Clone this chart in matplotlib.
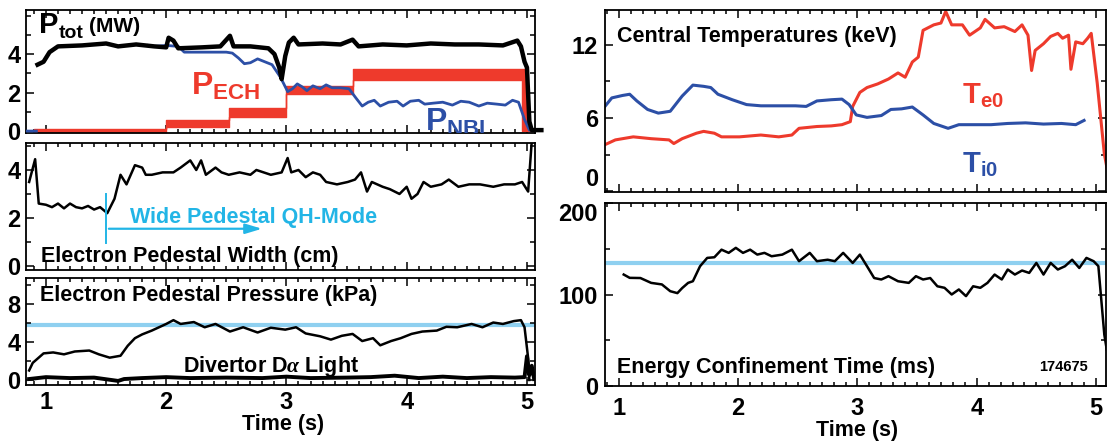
import matplotlib
matplotlib.use("Agg")
import matplotlib.pyplot as plt
from matplotlib.ticker import MultipleLocator

plt.rcParams["font.family"] = ["Liberation Sans", "DejaVu Sans"]
plt.rcParams["font.weight"] = "bold"
plt.rcParams["mathtext.fontset"] = "custom"
plt.rcParams["mathtext.rm"] = "Liberation Sans:bold"
plt.rcParams["mathtext.bf"] = "Liberation Sans:bold"
plt.rcParams["mathtext.it"] = "Liberation Serif:italic"

RED = "#ee3a2c"
BLUE = "#2c4fa6"
CYAN = "#22b5e6"
LIGHT = "#8fd0f0"
NAN = float("nan")

# ---- total power (MW) ----
ptot_t = [0.93, 0.98, 1.03, 1.10, 1.30, 1.50, 1.60, 1.75, 1.90, 2.00, 2.02, 2.06, 2.10, 2.30,
          2.45, 2.53, 2.56, 2.70, 2.85, 2.90, 2.94, 2.96, 2.99, 3.02, 3.06, 3.10, 3.30, 3.45,
          3.55, 3.60, 3.80, 4.00, 4.20, 4.40, 4.60, 4.80, 4.92, 4.95, 4.98, 5.00, 5.02, 5.04, 5.12]
ptot_v = [3.45, 3.6, 4.1, 4.4, 4.45, 4.55, 4.4, 4.5, 4.4, 4.35, 4.85, 4.7, 4.3, 4.35,
          4.4, 4.95, 4.4, 4.4, 4.3, 4.0, 3.3, 2.7, 3.9, 4.6, 4.85, 4.5, 4.55, 4.5,
          4.75, 4.4, 4.5, 4.45, 4.55, 4.5, 4.5, 4.45, 4.7, 4.4, 3.6, 3.3, 0.5, 0.05, 0.05]

# NBI power (zero before the beams, hidden under P_tot until ~1.9 s)
nbi_t = [0.84, 0.92, 0.93, 1.85, 1.90, 2.00, 2.10, 2.15,
         2.50, 2.55, 2.60, 2.65, 2.70, 2.76, 2.82, 2.88, 2.95, 3.01, 3.05, 3.09, 3.13, 3.17,
         3.22, 3.28, 3.33, 3.38, 3.45, 3.52, 3.58, 3.63, 3.68, 3.73, 3.78, 3.85, 3.92, 3.97,
         4.03, 4.10, 4.15, 4.22, 4.30, 4.38, 4.45, 4.52, 4.60, 4.67, 4.75, 4.82, 4.88, 4.93,
         4.98, 5.02, 5.10]
nbi_v = [0.0, 0.0, NAN, 4.45, 4.4, 4.45, 4.4, 4.1,
         4.1, 4.05, 3.8, 3.5, 3.55, 3.75, 3.6, 3.45, 2.8, 2.05, 2.2, 2.45, 2.3, 2.1,
         2.35, 2.2, 2.4, 2.25, 2.25, 2.2, 1.7, 1.3, 1.5, 1.6, 1.3, 1.5, 1.55, 1.3,
         1.55, 1.6, 1.4, 1.45, 1.5, 1.35, 1.55, 1.5, 1.3, 1.45, 1.4, 1.35, 1.6, 1.5,
         0.6, 0.05, 0.05]

# ECH power: modulated band, lower / upper envelope per step
ech_t = [0.90, 2.00, 2.52, 3.00, 3.55, 4.96, 5.00, 5.10]
ech_lo = [-0.05, 0.2, 0.75, 1.95, 2.65, 0.0, 0.0, 0.0]
ech_hi = [0.10, 0.6, 1.20, 2.35, 3.20, 3.2, 0.05, 0.05]

# ---- electron pedestal width (cm) ----
wid_t = [0.86, 0.91, 0.94, 1.00, 1.05, 1.10, 1.15, 1.20, 1.25, 1.30, 1.35, 1.40, 1.45, 1.51,
         1.57, 1.62, 1.67, 1.74, 1.80, 1.83, 1.88, 1.97, 2.06, 2.12, 2.20, 2.25, 2.29, 2.33,
         2.41, 2.46, 2.52, 2.61, 2.70, 2.75, 2.87, 2.96, 3.01, 3.04, 3.10, 3.16, 3.22, 3.28,
         3.33, 3.42, 3.51, 3.57, 3.62, 3.67, 3.71, 3.80, 3.86, 3.94, 4.00, 4.04, 4.09, 4.14,
         4.20, 4.29, 4.35, 4.43, 4.52, 4.61, 4.72, 4.81, 4.90, 4.96, 5.01, 5.04]
wid_v = [3.5, 4.45, 2.6, 2.55, 2.45, 2.6, 2.4, 2.6, 2.45, 2.4, 2.5, 2.35, 2.45, 2.2,
         2.8, 3.8, 3.4, 4.2, 4.1, 3.8, 3.8, 3.9, 3.9, 4.1, 4.4, 4.0, 4.4, 3.8,
         4.1, 3.9, 3.8, 3.9, 3.8, 4.0, 3.8, 3.9, 4.5, 3.9, 4.0, 3.7, 3.9, 3.8,
         3.5, 3.4, 3.5, 3.6, 3.9, 3.1, 3.5, 3.3, 3.2, 3.0, 3.3, 2.8, 3.0, 3.5,
         3.3, 3.4, 3.6, 3.3, 3.4, 3.4, 3.3, 3.4, 3.4, 3.5, 3.1, 5.2]

# ---- electron pedestal pressure (kPa) and D-alpha ----
pres_t = [0.86, 0.89, 0.98, 1.06, 1.15, 1.24, 1.36, 1.44, 1.53, 1.62, 1.68, 1.74, 1.80, 1.88,
          1.94, 2.00, 2.06, 2.12, 2.23, 2.32, 2.41, 2.53, 2.64, 2.76, 2.87, 2.99, 3.08, 3.16,
          3.28, 3.37, 3.46, 3.55, 3.63, 3.72, 3.78, 3.87, 3.95, 4.04, 4.13, 4.25, 4.33, 4.42,
          4.54, 4.63, 4.72, 4.80, 4.89, 4.95, 4.98, 5.01, 5.02]
pres_v = [1.0, 1.8, 2.8, 2.9, 2.7, 3.0, 3.1, 2.7, 2.35, 2.55, 3.6, 4.4, 4.8, 5.2,
          5.55, 5.9, 6.3, 5.9, 6.1, 5.55, 5.9, 5.1, 5.55, 5.0, 5.5, 5.3, 5.55, 4.9,
          4.6, 4.25, 4.65, 4.85, 4.1, 4.4, 3.65, 4.1, 4.4, 4.85, 5.1, 5.2, 5.6, 5.55,
          5.9, 5.55, 6.05, 5.9, 6.2, 6.3, 5.55, 2.3, 0.0]
pres_ref = 5.8

da_t = [0.86, 1.00, 1.20, 1.40, 1.60, 1.65, 1.80, 2.00, 2.20, 2.50, 2.80, 3.00, 3.20, 3.50,
        3.70, 3.90, 4.10, 4.30, 4.50, 4.70, 4.90, 4.98, 5.00, 5.02, 5.04, 5.06]
da_v = [0.1, 0.3, 0.2, 0.25, -0.1, 0.1, 0.2, 0.3, 0.2, 0.25, 0.2, 0.35, 0.2, 0.25,
        0.3, 0.45, 0.2, 0.35, 0.2, 0.3, 0.25, 0.3, 2.5, 0.5, 1.5, 0.1]

# ---- central temperatures (keV) ----
te_t = [0.87, 0.97, 1.12, 1.27, 1.42, 1.46, 1.53, 1.65, 1.71, 1.80, 1.86, 2.01, 2.19, 2.34,
        2.45, 2.51, 2.66, 2.78, 2.87, 2.94, 2.96, 3.02, 3.08, 3.17, 3.26, 3.34, 3.40, 3.46,
        3.51, 3.55, 3.64, 3.70, 3.74, 3.79, 3.88, 3.94, 4.03, 4.07, 4.15, 4.23, 4.32, 4.38,
        4.43, 4.46, 4.49, 4.56, 4.62, 4.68, 4.72, 4.77, 4.79, 4.83, 4.89, 4.93, 4.96, 5.01,
        5.07, 5.10]
te_v = [3.75, 4.2, 4.45, 4.3, 4.2, 3.9, 4.3, 4.75, 4.9, 4.75, 4.45, 4.45, 4.6, 4.45,
        4.6, 5.15, 5.3, 5.35, 5.45, 5.7, 6.95, 8.1, 8.5, 8.8, 9.2, 9.7, 9.35, 10.6,
        11.0, 13.2, 13.65, 13.8, 14.75, 13.65, 13.65, 12.8, 13.4, 14.1, 13.4, 13.5, 13.1, 13.65,
        12.8, 9.9, 11.55, 12.1, 12.7, 12.95, 12.55, 12.8, 10.0, 12.25, 12.1, 12.55, 12.95, 8.9,
        3.05, 1.5]

ti_t = [0.87, 0.94, 1.03, 1.09, 1.15, 1.24, 1.33, 1.43, 1.53, 1.62, 1.71, 1.77, 1.83, 1.95,
        2.07, 2.19, 2.34, 2.48, 2.57, 2.66, 2.78, 2.87, 2.93, 2.99, 3.08, 3.20, 3.28, 3.37,
        3.46, 3.55, 3.64, 3.76, 3.85, 3.97, 4.12, 4.26, 4.41, 4.56, 4.71, 4.83, 4.90]
ti_v = [6.8, 7.65, 7.85, 7.95, 7.4, 6.7, 6.4, 6.55, 7.8, 8.7, 8.6, 8.5, 7.95, 7.5,
        7.1, 7.0, 7.0, 7.0, 6.95, 7.4, 7.5, 7.55, 7.1, 6.25, 6.05, 6.2, 6.7, 6.75,
        6.9, 6.25, 5.55, 5.15, 5.45, 5.45, 5.45, 5.55, 5.6, 5.5, 5.55, 5.45, 5.8]

# ---- energy confinement time (ms) ----
tau_t = [1.04, 1.09, 1.18, 1.27, 1.36, 1.43, 1.49, 1.53, 1.58, 1.62, 1.68, 1.74, 1.80, 1.86,
         1.92, 1.98, 2.04, 2.10, 2.16, 2.22, 2.28, 2.37, 2.45, 2.51, 2.60, 2.66, 2.75, 2.81,
         2.88, 2.96, 3.02, 3.08, 3.14, 3.20, 3.26, 3.34, 3.43, 3.49, 3.55, 3.61, 3.67, 3.73,
         3.79, 3.85, 3.91, 3.97, 4.03, 4.09, 4.15, 4.21, 4.26, 4.32, 4.38, 4.44, 4.50, 4.56,
         4.62, 4.68, 4.74, 4.80, 4.86, 4.92, 4.98, 5.02, 5.07, 5.09]
tau_v = [121.8, 118.2, 118.0, 112.7, 111.0, 103.6, 101.5, 107.0, 112.7, 114.5, 130.9, 140.0,
         140.7, 149.0, 145.5, 151.0, 145.5, 149.0, 143.6, 145.5, 141.8, 143.6, 149.0, 136.4,
         145.5, 136.4, 138.0, 136.4, 145.5, 134.5, 143.6, 130.9, 118.0, 116.4, 120.0, 114.5,
         112.7, 120.0, 116.4, 118.0, 109.0, 107.3, 100.0, 105.5, 98.2, 109.0, 107.3, 112.7,
         121.8, 116.4, 127.3, 121.8, 126.2, 123.6, 134.5, 121.8, 134.5, 127.3, 130.9, 138.0,
         129.0, 140.0, 136.4, 131.0, 56.0, 40.0]
tau_ref = 134

W, H = 1107, 444
fig = plt.figure(figsize=(W / 100, H / 100), dpi=100)


def box(l, t, r, b):
    return fig.add_axes([l / W, 1 - b / H, (r - l) / W, (b - t) / H])


def label(x, y, s, **kw):
    # x, y in picture pixels from the top-left corner, y is the text baseline
    kw.setdefault("va", "baseline")
    kw.setdefault("fontsize", 15.5)
    return fig.text(x / W, 1 - y / H, s, **kw)


def style(ax, xlim, ylim, ymajor, yminor, ypad, xpad):
    ax.set_xlim(*xlim)
    ax.set_ylim(*ylim)
    ax.xaxis.set_major_locator(MultipleLocator(1))
    ax.xaxis.set_minor_locator(MultipleLocator(0.1))
    ax.set_yticks(ymajor)
    ax.set_yticks(yminor, minor=True)
    ax.tick_params(which="both", direction="in", top=True, right=True, width=1.1,
                   labelsize=17)
    ax.tick_params(axis="x", pad=xpad)
    ax.tick_params(axis="y", pad=ypad)
    ax.tick_params(which="major", length=6)
    ax.tick_params(which="minor", length=3.5)
    ax.tick_params(axis="x", which="minor", length=3)
    for s in ax.spines.values():
        s.set_linewidth(1.3)


LX = (0.834, 5.067)
RX = (0.883, 5.084)

# left column
ax1 = box(26, 10, 535, 133)
ax2 = box(26, 143, 535, 270)
ax3 = box(26, 278, 535, 385)
# right column
ax4 = box(605, 10, 1106, 192)
ax5 = box(605, 203, 1106, 386)

style(ax1, LX, (-0.1, 6.29), [0, 2, 4], [1, 3, 5, 6], 4, 4)
style(ax2, LX, (-0.17, 5.125), [0, 2, 4], [1, 3, 5], 4, 4)
style(ax3, LX, (-0.53, 10.74), [0, 4, 8], [2, 6, 10], 4, 4)
style(ax4, RX, (-0.08, 14.87), [0, 6, 12], [3, 9], 5, 8)
style(ax5, RX, (0, 200), [0, 100, 200], [50, 150], 5, 8)
for ax in (ax1, ax2, ax4):
    ax.tick_params(labelbottom=False)

# panel 1: powers
ax1.fill_between(ech_t, ech_lo, ech_hi, step="post", color=RED, lw=1.0, edgecolor=RED, zorder=2)
ax1.plot(nbi_t, nbi_v, color=BLUE, lw=2.0, zorder=3)
ax1.plot(ptot_t, ptot_v, color="black", lw=3.2, zorder=4, clip_on=False)
label(39, 33, "P", fontsize=21)
label(59, 38, "tot", fontsize=14)
label(89, 32, "(MW)", fontsize=15)
label(191, 95, r"$\mathbf{P_{ECH}}$", fontsize=23, color=RED)
ax1.text(4.15, 0.0, r"$\mathbf{P_{NBI}}$", fontsize=23, color=BLUE, va="baseline", clip_on=True)

# panel 2: pedestal width
ax2.plot(wid_t, wid_v, color="black", lw=1.8)
ax2.plot([1.5, 1.5], [0.95, 3.0], color=CYAN, lw=1.4)
ax2.annotate("", xy=(2.82, 1.55), xytext=(1.5, 1.55),
             arrowprops=dict(arrowstyle="-|>,head_length=1.0,head_width=0.3", color=CYAN, lw=1.6))
label(130, 223, "Wide Pedestal QH-Mode", color=CYAN)
label(41, 262, "Electron Pedestal Width (cm)")

# panel 3: pedestal pressure and D-alpha
ax3.axhline(pres_ref, color=LIGHT, lw=3.0, zorder=1)
ax3.plot(da_t, da_v, color="black", lw=2.8)
ax3.plot(pres_t, pres_v, color="black", lw=1.8)
label(40, 301, "Electron Pedestal Pressure (kPa)")
label(183, 372, r"Divertor D$\alpha$ Light")
label(283, 430, "Time (s)", ha="center")

# panel 4: temperatures
ax4.plot(te_t, te_v, color=RED, lw=2.2)
ax4.plot(ti_t, ti_v, color=BLUE, lw=2.2)
label(617, 42, "Central Temperatures (keV)")
label(962, 103, r"$\mathbf{T_{e0}}$", fontsize=21, color=RED)
label(962, 172, r"$\mathbf{T_{i0}}$", fontsize=21, color=BLUE)

# panel 5: confinement time
ax5.axhline(tau_ref, color=LIGHT, lw=3.0, zorder=1)
ax5.plot(tau_t, tau_v, color="black", lw=1.8)
label(617, 373, "Energy Confinement Time (ms)")
label(1088, 371, "174675", fontsize=10.5, ha="right")
label(857, 436, "Time (s)", ha="center")

fig.canvas.draw()
for t in ax4.get_yticklabels():
    if t.get_text() == "0":
        t.set_va("bottom")
for t in ax5.get_yticklabels():
    if t.get_text() == "200":
        t.set_va("top")

fig.savefig("out.png", dpi=100)
